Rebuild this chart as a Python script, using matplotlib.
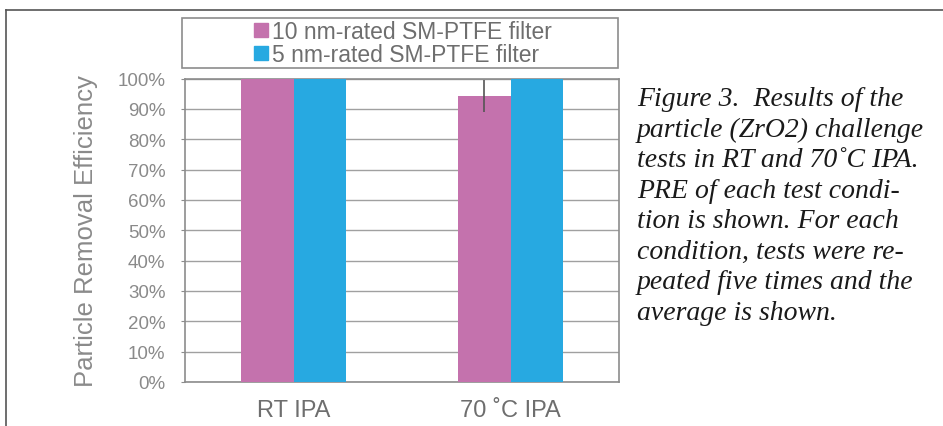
import matplotlib
matplotlib.use('Agg')
import matplotlib.pyplot as plt
from matplotlib.lines import Line2D
from matplotlib.patches import Rectangle, Patch
import numpy as np

# %% Data
categories = ['RT IPA', '70 \u02daC IPA']
series_names = ['10 nm-rated SM-PTFE filter', '5 nm-rated SM-PTFE filter']
pre_10nm = [1.00, 0.943]
pre_5nm = [1.00, 1.00]
err_10nm = [0.0, 0.053]
err_5nm = [0.0, 0.0]
yticks = [0.0, 0.1, 0.2, 0.3, 0.4, 0.5, 0.6, 0.7, 0.8, 0.9, 1.0]
caption_lines = ['Figure 3.  Results of the',
                 'particle (ZrO2) challenge',
                 'tests in RT and 70\u02daC IPA.',
                 'PRE of each test condi-',
                 'tion is shown. For each',
                 'condition, tests were re-',
                 'peated five times and the',
                 'average is shown.']

pink = '#c472ad'
blue = '#27a9e1'
grey_txt = '#8a8a8a'

plt.rcParams['font.family'] = ['Liberation Sans', 'DejaVu Sans']

W, H = 943, 427
fig = plt.figure(figsize=(W / 100, H / 100), dpi=100)

# %% Axes
ax = fig.add_axes([185 / W, (H - 383) / H, 434 / W, (383 - 79.5) / H])
x = np.arange(len(categories))
bw = 0.24
ax.bar(x - bw / 2, pre_10nm, bw, color=pink, yerr=err_10nm,
       error_kw=dict(ecolor='#555555', elinewidth=1.2, capsize=0), zorder=3)
ax.bar(x + bw / 2, pre_5nm, bw, color=blue, yerr=err_5nm,
       error_kw=dict(ecolor='#555555', elinewidth=1.2, capsize=0), zorder=3)

ax.set_xlim(-0.5, 1.5)
ax.set_ylim(0, 1.0)
ax.set_yticks(yticks)
ax.set_yticklabels([f'{int(round(v * 100))}%' for v in yticks])
ax.set_xticks(x)
ax.set_xticklabels(categories)
ax.yaxis.grid(True, color='#a0a0a0', lw=1.0, zorder=0)
ax.set_axisbelow(True)
for s in ax.spines.values():
    s.set_color('#8c8c8c')
    s.set_linewidth(1.2)
ax.tick_params(axis='y', length=3, color='#8c8c8c', labelsize=13.5,
               labelcolor=grey_txt, pad=11)
ax.tick_params(axis='x', length=0, labelsize=17, labelcolor='#6e6e6e', pad=12)
ax.set_ylabel('Particle Removal Efficiency', fontsize=18.5, color=grey_txt,
              labelpad=14)

# %% Legend box
fig.add_artist(Rectangle((182 / W, 1 - 69 / H), 436 / W, 50 / H,
                         transform=fig.transFigure, fill=False,
                         edgecolor='#8c8c8c', lw=1.2))
handles = [Patch(color=pink), Patch(color=blue)]
fig.legend(handles, series_names, loc='center',
           bbox_to_anchor=(403 / W, 1 - 44 / H), frameon=False,
           fontsize=16.5, labelcolor='#6e6e6e', handlelength=0.6,
           handleheight=0.6, handletextpad=0.2, labelspacing=0.0,
           borderpad=0)

# %% Outer frame lines
fig.add_artist(Line2D([6 / W, 1], [1 - 11 / H, 1 - 11 / H],
                      transform=fig.transFigure, color='#555555', lw=1.2))
fig.add_artist(Line2D([6 / W, 6 / W], [0, 1 - 11 / H],
                      transform=fig.transFigure, color='#555555', lw=1.2))

# %% Caption
for i, line in enumerate(caption_lines):
    fig.text(637 / W, 1 - (100 + i * 30.5) / H, line, fontsize=20,
             family='Liberation Serif', style='italic', color='#1a1a1a',
             va='center', ha='left')

fig.savefig('out.png', dpi=100)
